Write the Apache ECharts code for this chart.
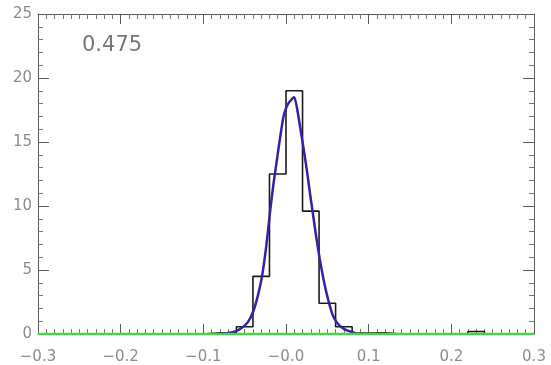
<!DOCTYPE html>
<html>
<head>
<meta charset="utf-8">
<script src="https://cdn.jsdelivr.net/npm/echarts@6/dist/echarts.min.js"></script>
<style>
  html, body { margin: 0; padding: 0; background: #fff; }
  #chart { width: 551px; height: 365px; }
</style>
</head>
<body>
<div id="chart"></div>
<script>
// Histogram bins (left edges, width 0.02) and densities
const binEdges = [-0.10, -0.08, -0.06, -0.04, -0.02, 0.00, 0.02, 0.04, 0.06, 0.08, 0.10, 0.12, 0.14, 0.16, 0.18, 0.20, 0.22, 0.24];
const binValues = [0.1, 0.1, 0.57, 4.5, 12.5, 19.0, 9.6, 2.4, 0.57, 0.08, 0.10, 0.0, 0.0, 0.0, 0.0, 0.0, 0.2];

// Fitted profile
const fitX = [-0.080, -0.070, -0.060, -0.052, -0.046, -0.040, -0.034, -0.029, -0.024, -0.019, -0.015, -0.011, -0.007, -0.003, 0.001, 0.005, 0.010, 0.014, 0.017, 0.021, 0.025, 0.029, 0.033, 0.037, 0.041, 0.045, 0.049, 0.053, 0.057, 0.061, 0.065, 0.073, 0.085];
const fitY = [0.02, 0.08, 0.25, 0.55, 0.95, 1.7, 3.0, 4.5, 6.8, 9.7, 11.8, 13.6, 15.4, 17.0, 17.8, 18.2, 18.5, 17.4, 16.2, 14.6, 12.9, 11.0, 9.2, 7.4, 5.8, 4.4, 3.2, 2.2, 1.4, 0.95, 0.65, 0.3, 0.05];

// Second component (flat at zero)
const compX = [-0.3, 0.3];
const compY = [0, 0];

const xTickLabels = ['\u22120.3', '\u22120.2', '\u22120.1', '\u22120.0', '0.1', '0.2', '0.3'];
const yTickLabels = ['0', '5', '10', '15', '20', '25'];
const annotation = '0.475';

// Step outline of the histogram
const histPoints = [[binEdges[0], 0]];
for (let i = 0; i < binValues.length; i++) {
  histPoints.push([binEdges[i], binValues[i]]);
}
histPoints.push([binEdges[binValues.length], 0]);

const axisGray = '#5a5a5a';
const labelGray = '#8c8c8c';
const font = 'DejaVu Sans';

const chart = echarts.init(document.getElementById('chart'), null, { renderer: 'canvas' });

const frameX = (pos, showLabel) => ({
  type: 'value', position: pos, min: -0.3, max: 0.3, interval: 0.1,
  axisLine: { show: true, onZero: false, lineStyle: { color: axisGray, width: 1 } },
  axisTick: { show: true, inside: true, length: 10, lineStyle: { color: axisGray } },
  minorTick: { show: true, splitNumber: 10, length: 5, lineStyle: { color: '#777' } },
  splitLine: { show: false },
  axisLabel: {
    show: showLabel, color: labelGray, fontFamily: font, fontSize: 15, margin: 16,
    formatter: (v) => xTickLabels[Math.round((v + 0.3) * 10)]
  }
});
const frameY = (pos, showLabel) => ({
  type: 'value', position: pos, min: 0, max: 25, interval: 5,
  axisLine: { show: true, onZero: false, lineStyle: { color: axisGray, width: 1 } },
  axisTick: { show: true, inside: true, length: 11, lineStyle: { color: axisGray } },
  minorTick: { show: true, splitNumber: 5, length: 5, lineStyle: { color: '#777' } },
  splitLine: { show: false },
  axisLabel: {
    show: showLabel, color: labelGray, fontFamily: font, fontSize: 15, margin: 6,
    formatter: (v) => yTickLabels[Math.round(v / 5)]
  }
});

chart.setOption({
  animation: false,
  backgroundColor: '#fff',
  grid: { left: 38, right: 17, top: 14, bottom: 30, containLabel: false },
  xAxis: [frameX('bottom', true), frameX('top', false)],
  yAxis: [frameY('left', true), frameY('right', false)],
  graphic: [{
    type: 'text', left: 82, top: 35,
    style: { text: annotation, fill: '#777', font: '21px "DejaVu Sans"' }
  }],
  series: [
    {
      type: 'line', data: histPoints, step: 'end',
      symbol: 'none', lineStyle: { color: '#1a1a1a', width: 1.6 }, z: 2
    },
    {
      type: 'line', data: fitX.map((x, i) => [x, fitY[i]]),
      symbol: 'none', smooth: 0.2, lineStyle: { color: '#3322a8', width: 2.5 }, z: 3
    },
    {
      type: 'line', data: compX.map((x, i) => [x, compY[i]]),
      symbol: 'none', lineStyle: { color: '#3fd83f', width: 2.5 }, z: 4
    }
  ]
});
</script>
</body>
</html>
